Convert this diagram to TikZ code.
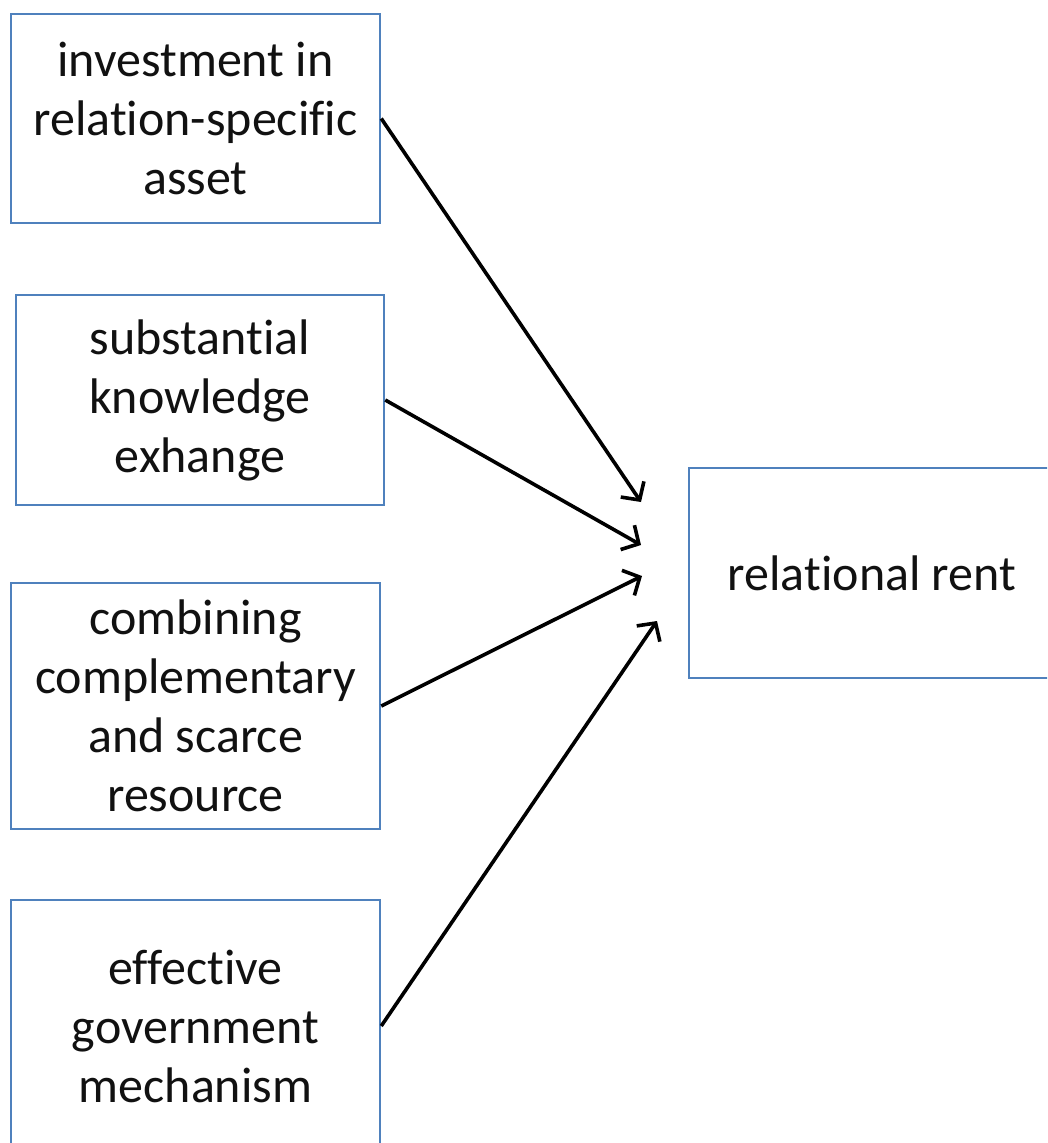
\documentclass[tikz,border=0pt]{standalone}
\usepackage{fontspec}
\setmainfont{Carlito}[Ligatures=NoCommon]
\usetikzlibrary{arrows.meta}
\definecolor{boxblue}{HTML}{4F81BD}
\definecolor{inktext}{HTML}{111111}

\begin{document}
\begin{tikzpicture}[x=1pt,y=-1pt,
    factor/.style={draw=boxblue,line width=2.5pt,fill=white,rectangle,
        align=center,text=inktext,inner sep=0pt,
        font=\fontsize{50}{59}\selectfont},
    arr/.style={line width=3.6pt,-{Straight Barb[length=13pt,width=28pt]}}]
% page
\clip (0,0) rectangle (1047,1143);
\fill[white] (0,0) rectangle (1047,1143);
% Factor boxes
\node[factor,minimum width=369,minimum height=209] (invest) at (195.5,118.5)
    {investment in\\relation-specific\\asset};
\node[factor,minimum width=368,minimum height=210] (know) at (200,400)
    {substantial\\knowledge\\exhange};
\node[factor,minimum width=369,minimum height=246] (comb) at (195.5,706)
    {combining\\complementary\\and scarce\\resource};
\node[factor,minimum width=369,minimum height=252] (gov) at (195.5,1026)
    {effective\\government\\mechanism};
% Outcome box
\node[factor,minimum width=366,minimum height=210] (rent) at (872,573)
    {relational rent};
% Arrow tips
\coordinate (t1) at (641,502);
\coordinate (t2) at (641,545);
\coordinate (t3) at (642,576);
\coordinate (t4) at (657,621);
\foreach \src/\tip in {invest/t1, know/t2, comb/t3, gov/t4} {
    \draw[arr] (\src.east) -- (\tip);
}
\end{tikzpicture}
\end{document}
